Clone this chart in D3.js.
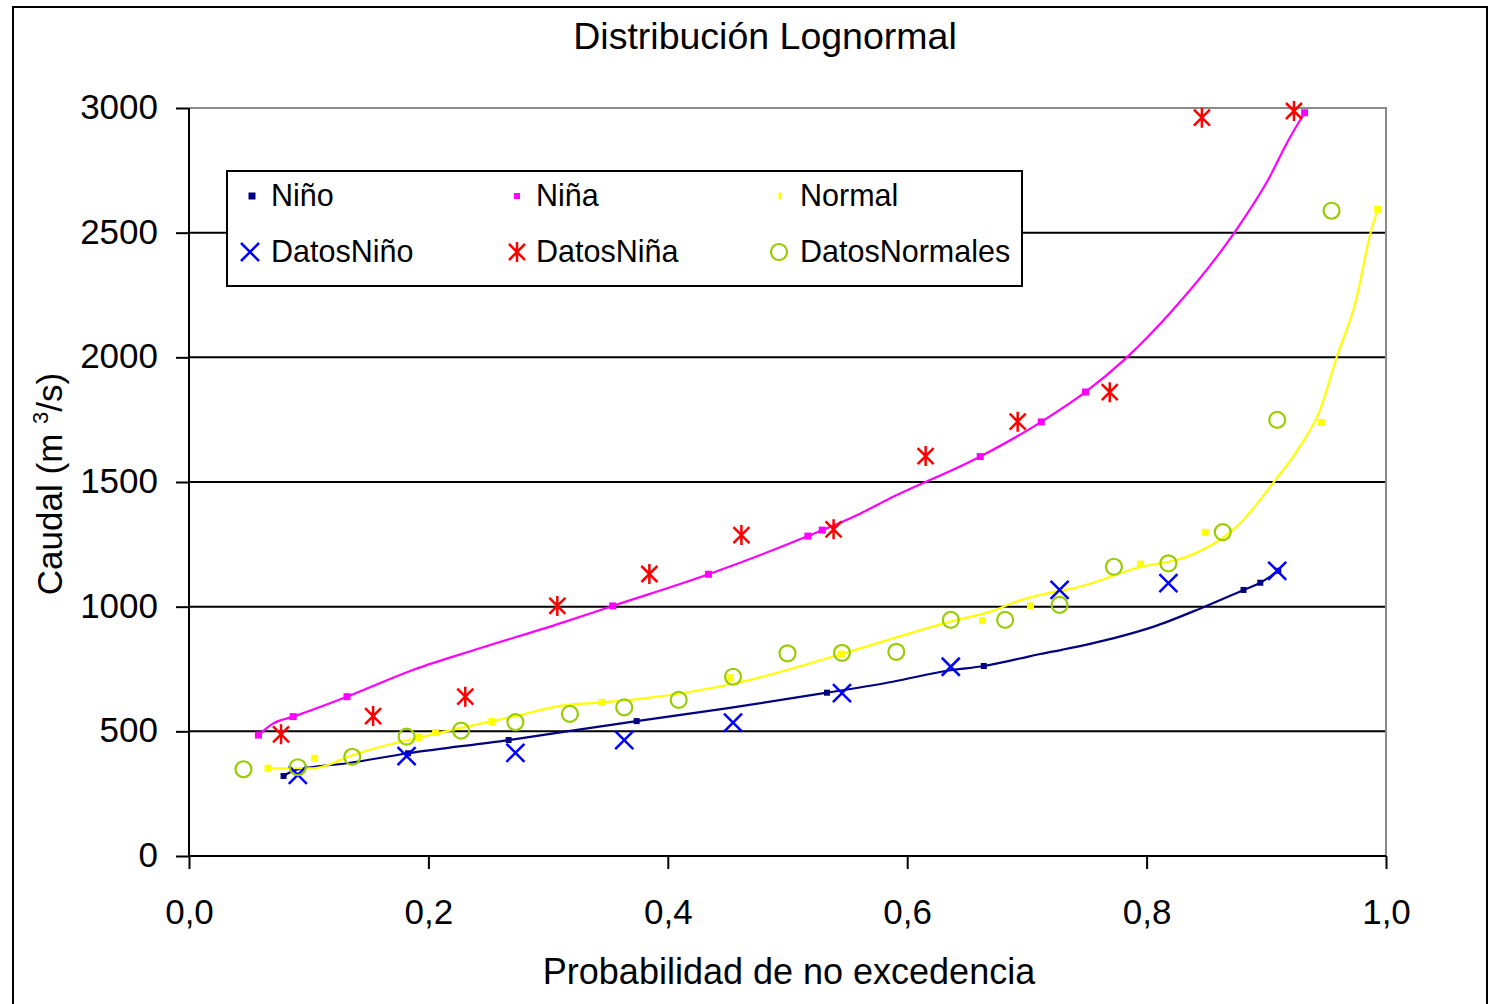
<!DOCTYPE html>
<html>
<head>
<meta charset="utf-8">
<script src="https://cdn.jsdelivr.net/npm/d3@7"></script>
<style>
  html, body { margin: 0; padding: 0; background: #fff; }
  svg { display: block; font-family: "Liberation Sans", Arial, sans-serif; }
</style>
</head>
<body>
<script>
// ---------- DATA ----------
const title = "Distribución Lognormal";
const xLabel = "Probabilidad de no excedencia";
const xTicks = [0, 0.2, 0.4, 0.6, 0.8, 1.0];
const xTickLabels = ["0,0", "0,2", "0,4", "0,6", "0,8", "1,0"];
const yTicks = [0, 500, 1000, 1500, 2000, 2500, 3000];

// fitted lognormal curves (probability, caudal)
const ninoCurve = [[0.079,321],[0.089,345],[0.132,372],[0.183,412],[0.267,465],[0.327,508],[0.374,541],[0.449,592],[0.533,655],[0.588,699],[0.636,745],[0.664,762],[0.694,792],[0.711,810],[0.730,828],[0.772,873],[0.806,920],[0.845,993],[0.881,1067],[0.895,1096],[0.910,1144]];
const ninaCurve = [[0.058,485],[0.0705,532],[0.087,559],[0.132,639],[0.187,746],[0.243,833],[0.310,933],[0.354,1003],[0.434,1130],[0.517,1283],[0.561,1374],[0.583,1428],[0.661,1602],[0.712,1741],[0.749,1861],[0.781,1989],[0.820,2180],[0.872,2491],[0.903,2725],[0.917,2858],[0.932,2981]];
const normalCurve = [[0.066,352],[0.104,352],[0.137,405],[0.160,438],[0.192,475],[0.229,516],[0.271,559],[0.310,602],[0.345,616],[0.380,632],[0.462,699],[0.545,810],[0.602,893],[0.636,940],[0.672,984],[0.691,1020],[0.711,1047],[0.744,1080],[0.794,1158],[0.8335,1200],[0.878,1334],[0.9055,1495],[0.928,1642],[0.945,1790],[0.958,1989],[0.975,2230],[0.987,2497],[0.993,2592]];

// theoretical markers
const ninoPoints = [[0.079,321],[0.183,412],[0.267,465],[0.374,541],[0.533,655],[0.664,762],[0.881,1067],[0.895,1096],[0.910,1144]];
const ninaPoints = [[0.058,485],[0.087,559],[0.132,639],[0.354,1003],[0.434,1130],[0.517,1283],[0.529,1307],[0.661,1602],[0.712,1741],[0.749,1861],[0.932,2981]];
const normalPoints = [[0.066,352],[0.105,392],[0.192,475],[0.206,495],[0.253,539],[0.345,616],[0.452,715],[0.545,810],[0.663,944],[0.703,1003],[0.795,1171],[0.849,1298],[0.946,1739],[0.993,2594]];

// observed data
const datosNino = [[0.0909,325],[0.1818,401],[0.2727,414],[0.3636,465],[0.4545,535],[0.5455,653],[0.6364,759],[0.7273,1067],[0.8182,1094],[0.9091,1144]];
const datosNina = [[0.0769,488],[0.1538,561],[0.2308,639],[0.3077,1003],[0.3846,1131],[0.4615,1287],[0.5385,1310],[0.6154,1604],[0.6923,1742],[0.7692,1860],[0.8462,2961],[0.9231,2988]];
const datosNormales = [[0.0455,348],[0.0909,356],[0.1364,398],[0.1818,479],[0.2273,503],[0.2727,537],[0.3182,570],[0.3636,596],[0.4091,626],[0.4545,719],[0.5000,813],[0.5455,815],[0.5909,819],[0.6364,947],[0.6818,947],[0.7273,1007],[0.7727,1160],[0.8182,1174],[0.8636,1299],[0.9091,1749],[0.9545,2588]];

// ---------- CHART ----------
const W = 1490, H = 1004;
const plot = { left: 189, top: 108, right: 1386, bottom: 856 };
const C = { nino: "#000080", nina: "#FF00FF", normal: "#FFFF00", dNino: "#0000FF", dNina: "#FF0000", dNormal: "#99CC00" };

const svg = d3.select("body").append("svg").attr("width", W).attr("height", H);
svg.append("rect").attr("width", W).attr("height", H).attr("fill", "#fff");
// outer chart border
svg.append("rect").attr("x", 13).attr("y", 7).attr("width", 1474).attr("height", 1020)
  .attr("fill", "none").attr("stroke", "#000").attr("stroke-width", 2);

const x = d3.scaleLinear().domain([0, 1]).range([plot.left, plot.right]);
const y = d3.scaleLinear().domain([0, 3000]).range([plot.bottom, plot.top]);

// gridlines
svg.append("g").selectAll("line").data(yTicks.filter(d => d > 0 && d < 3000)).join("line")
  .attr("x1", plot.left).attr("x2", plot.right)
  .attr("y1", d => y(d)).attr("y2", d => y(d))
  .attr("stroke", "#000").attr("stroke-width", 2);
// top & right plot border (grey)
svg.append("path")
  .attr("d", `M${plot.left},${plot.top}H${plot.right}V${plot.bottom}`)
  .attr("fill", "none").attr("stroke", "#8a8a8a").attr("stroke-width", 2);

// axes
const xAxis = d3.axisBottom(x).tickValues(xTicks).tickSize(13).tickPadding(30)
  .tickFormat((d, i) => xTickLabels[i]);
const gx = svg.append("g").attr("transform", `translate(0,${plot.bottom})`).call(xAxis);
const yAxis = d3.axisLeft(y).tickValues(yTicks).tickSize(13).tickPadding(18).tickFormat(d => d);
const gy = svg.append("g").attr("transform", `translate(${plot.left},0)`).call(yAxis);
[gx, gy].forEach(g => {
  g.select(".domain").attr("stroke", "#000").attr("stroke-width", 2);
  g.selectAll(".tick line").attr("stroke", "#000").attr("stroke-width", 2);
  g.selectAll(".tick text").attr("fill", "#000").attr("font-size", 35)
    .attr("font-family", "'Liberation Sans', Arial, sans-serif");
});
gx.selectAll(".tick text").attr("dy", "0.71em");
gy.selectAll(".tick text").attr("dy", "0.3em");
gx.select(".domain").attr("d", `M${plot.left},0H${plot.right}`);
gy.select(".domain").attr("d", `M0,${plot.bottom}V${plot.top}`);

// title & labels
svg.append("text").attr("x", 765).attr("y", 49).attr("text-anchor", "middle")
  .attr("font-size", 37.5).attr("fill", "#000").text(title);
svg.append("text").attr("x", 789).attr("y", 984).attr("text-anchor", "middle")
  .attr("font-size", 36).attr("fill", "#000").text(xLabel);
const yl = svg.append("text").attr("transform", "translate(62,484) rotate(-90)")
  .attr("text-anchor", "middle").attr("font-size", 35).attr("fill", "#000");
yl.append("tspan").text("Caudal (m ");
yl.append("tspan").attr("font-size", 22).attr("dy", -14).text("3");
yl.append("tspan").attr("dy", 14).text("/s)");

// lines
const line = d3.line().x(d => x(d[0])).y(d => y(d[1])).curve(d3.curveMonotoneX);
const lines = svg.append("g").attr("fill", "none").attr("stroke-width", 2.2).attr("stroke-linejoin", "round");
lines.append("path").datum(ninoCurve).attr("d", line).attr("stroke", C.nino);
lines.append("path").datum(ninaCurve).attr("d", line).attr("stroke", C.nina);
lines.append("path").datum(normalCurve).attr("d", line).attr("stroke", C.normal);

// square markers
function squares(data, color, w, h) {
  svg.append("g").selectAll("rect").data(data).join("rect")
    .attr("x", d => x(d[0]) - w / 2).attr("y", d => y(d[1]) - h / 2)
    .attr("width", w).attr("height", h).attr("fill", color);
}
squares(ninoPoints, C.nino, 6, 6);
squares(ninaPoints, C.nina, 7, 7);
squares(normalPoints, C.normal, 7, 7);

// symbol helpers
function crossPath(cx, cy, r) {
  return `M${cx - r},${cy - r}L${cx + r},${cy + r}M${cx - r},${cy + r}L${cx + r},${cy - r}`;
}
function starPath(cx, cy, r) {
  return crossPath(cx, cy, r * 0.8) + `M${cx},${cy - r}L${cx},${cy + r}`;
}
svg.append("g").selectAll("path").data(datosNino).join("path")
  .attr("d", d => crossPath(x(d[0]), y(d[1]), 9))
  .attr("stroke", C.dNino).attr("stroke-width", 2.5).attr("fill", "none");
svg.append("g").selectAll("path").data(datosNina).join("path")
  .attr("d", d => starPath(x(d[0]), y(d[1]), 10))
  .attr("stroke", C.dNina).attr("stroke-width", 2.5).attr("fill", "none");
svg.append("g").selectAll("circle").data(datosNormales).join("circle")
  .attr("cx", d => x(d[0])).attr("cy", d => y(d[1])).attr("r", 8)
  .attr("stroke", C.dNormal).attr("stroke-width", 2.2).attr("fill", "none");

// legend
const lg = svg.append("g");
lg.append("rect").attr("x", 227).attr("y", 171).attr("width", 795).attr("height", 115)
  .attr("fill", "#fff").attr("stroke", "#000").attr("stroke-width", 2);
const legendItems = [
  { label: "Niño", col: 0, row: 0, type: "sq", color: C.nino, w: 7, h: 7 },
  { label: "Niña", col: 1, row: 0, type: "sq", color: C.nina, w: 6, h: 6 },
  { label: "Normal", col: 2, row: 0, type: "sq", color: C.normal, w: 3, h: 7 },
  { label: "DatosNiño", col: 0, row: 1, type: "x", color: C.dNino },
  { label: "DatosNiña", col: 1, row: 1, type: "star", color: C.dNina },
  { label: "DatosNormales", col: 2, row: 1, type: "o", color: C.dNormal }
];
const colX = [252, 517, 780];
const textX = [271, 536, 800];
const rowY = [196, 252];
legendItems.forEach(it => {
  const cx = colX[it.col], cy = rowY[it.row];
  if (it.type === "sq") {
    lg.append("rect").attr("x", cx - it.w / 2).attr("y", cy - it.h / 2)
      .attr("width", it.w).attr("height", it.h).attr("fill", it.color);
  } else if (it.type === "x") {
    lg.append("path").attr("d", crossPath(cx - 2, cy, 9)).attr("stroke", it.color)
      .attr("stroke-width", 2.5).attr("fill", "none");
  } else if (it.type === "star") {
    lg.append("path").attr("d", starPath(cx, cy, 10)).attr("stroke", it.color)
      .attr("stroke-width", 2.5).attr("fill", "none");
  } else {
    lg.append("circle").attr("cx", cx - 1).attr("cy", cy).attr("r", 8)
      .attr("stroke", it.color).attr("stroke-width", 2.2).attr("fill", "none");
  }
  lg.append("text").attr("x", textX[it.col]).attr("y", cy + 10)
    .attr("font-size", 30.5).attr("fill", "#000").text(it.label);
});
</script>
</body>
</html>
